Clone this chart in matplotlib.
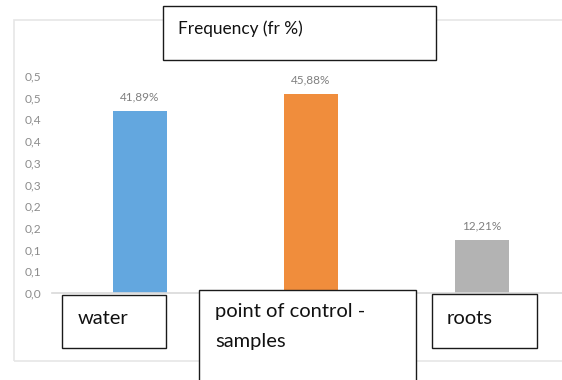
import matplotlib
matplotlib.use("Agg")
import matplotlib.pyplot as plt
from matplotlib.patches import Rectangle

# Data
categories = ["water", "point of control -\nsamples", "roots"]
values = [0.4189, 0.4588, 0.1221]
colors = ["#63A7DF", "#F08D3C", "#B3B3B3"]
ytick_values = [0.00, 0.05, 0.10, 0.15, 0.20, 0.25, 0.30, 0.35, 0.40, 0.45, 0.50]
ytick_labels = ["0,0", "0,1", "0,1", "0,2", "0,2", "0,3", "0,3", "0,4", "0,4", "0,5", "0,5"]
title = "Frequency (fr %)"

W, H = 562, 380
fig = plt.figure(figsize=(W / 100, H / 100), dpi=100)
fig.patch.set_facecolor("white")

FONT = ["Lato", "DejaVu Sans"]


def fx(px):
    return px / W


def fy(py):
    return 1 - py / H


# chart-area frame (light gray)
fig.add_artist(Rectangle((fx(14), fy(361)), fx(600) - fx(14), fy(20) - fy(361),
                         transform=fig.transFigure, fill=False,
                         edgecolor="#e6e6e6", linewidth=1.2, zorder=0))

# plot area: x=0 at 140px, 171px per category; y=0 at 293px, 434px per unit
left_px, right_px = 52, 562
bottom_px = 293
ymax = 0.55
top_px = bottom_px - ymax * 434
ax = fig.add_axes([fx(left_px), fy(bottom_px), fx(right_px) - fx(left_px),
                   fy(top_px) - fy(bottom_px)])
ax.set_xlim((left_px - 140) / 171, (right_px - 140) / 171)
ax.set_ylim(0, ymax)

x = list(range(len(categories)))
bars = ax.bar(x, values, width=54 / 171, color=colors, zorder=2)

for xi, v in zip(x, values):
    ax.annotate(f"{v * 100:.2f}%".replace(".", ","), (xi, v),
                xytext=(0, 10), textcoords="offset points",
                ha="center", va="center", fontsize=8.5,
                color="#7f7f7f", family=FONT)

ax.set_yticks(ytick_values)
ax.set_yticklabels(ytick_labels, fontsize=8.6, color="#8c8c8c", family=FONT)
ax.tick_params(axis="y", length=0, pad=8)
ax.set_xticks([])
for s in ["left", "right", "top"]:
    ax.spines[s].set_visible(False)
ax.spines["bottom"].set_color("#d9d9d9")
ax.spines["bottom"].set_linewidth(1.2)
ax.set_facecolor("none")


def text_box(x0, y0, x1, y1):
    fig.add_artist(Rectangle((fx(x0), fy(y1)), fx(x1) - fx(x0), fy(y0) - fy(y1),
                             transform=fig.transFigure, facecolor="white",
                             edgecolor="#1a1a1a", linewidth=1.0, zorder=5))


# title box
text_box(163, 6, 436, 60)
fig.text(fx(178), fy(29), title, ha="left", va="center", fontsize=12.4,
         family=FONT, color="#111111", zorder=6)

# category label boxes
boxes = [(62, 295, 166, 348), (199, 290, 416, 385), (432, 294, 537, 348)]
text_pos = [(78, 319), (215, 311), (447, 319)]
for (x0, y0, x1, y1), (tx, ty), name in zip(boxes, text_pos, categories):
    text_box(x0, y0, x1, y1)
    lines = name.split("\n")
    for i, line in enumerate(lines):
        fig.text(fx(tx), fy(ty + i * 30), line, ha="left", va="center",
                 fontsize=14.5, family=FONT, color="#111111", zorder=6)

fig.savefig("out.png", dpi=100)
